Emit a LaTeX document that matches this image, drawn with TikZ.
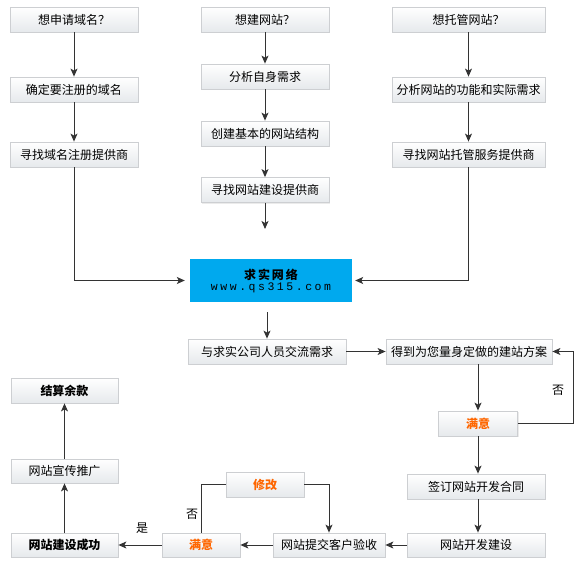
\documentclass[tikz,border=0pt]{standalone}
\usepackage{fontspec}
\setmainfont{Noto Sans CJK SC}
\newfontfamily\monofont{Liberation Mono}
\usetikzlibrary{arrows.meta,shadows}
\definecolor{boxline}{HTML}{CDCFD2}
\definecolor{boxbot}{HTML}{E6E9EC}
\definecolor{qsblue}{HTML}{00A9EE}
\definecolor{lineclr}{HTML}{333333}
\definecolor{orangetxt}{HTML}{FF6600}
\tikzset{
  flowbox/.style={draw=boxline, line width=0.8pt, top color=white, bottom color=boxbot,
    minimum height=25pt, inner sep=0pt, font=\fontsize{12pt}{14pt}\selectfont,
    drop shadow={shadow xshift=1pt, shadow yshift=-1pt, fill=black, opacity=0.08}},
  boldbox/.style={flowbox, font=\fontsize{12pt}{14pt}\selectfont\bfseries},
  okbox/.style={flowbox, font=\fontsize{12pt}{14pt}\selectfont\bfseries, text=orangetxt},
  bluebox/.style={fill=qsblue, draw=none, minimum width=162pt, minimum height=43pt, inner sep=0pt, align=center},
  conn/.style={draw=lineclr, line width=1pt},
  arr/.style={conn, -{Stealth[length=8pt,width=7pt,inset=2pt]}},
  lbl/.style={font=\fontsize{12pt}{14pt}\selectfont, inner sep=0pt}
}
\begin{document}
\begin{tikzpicture}[x=1pt,y=-1pt]
\useasboundingbox (0,0) rectangle (582,570);
% column 1
\node[flowbox, minimum width=128pt] (a1) at (74,19.5) {想申请域名？};
\node[flowbox, minimum width=128pt] (a2) at (74,89.5) {确定要注册的域名};
\node[flowbox, minimum width=128pt] (a3) at (74,154.5) {寻找域名注册提供商};
% column 2
\node[flowbox, minimum width=128pt] (b1) at (265,19.5) {想建网站？};
\node[flowbox, minimum width=128pt] (b2) at (265,76.5) {分析自身需求};
\node[flowbox, minimum width=128pt] (b3) at (265,133.5) {创建基本的网站结构};
\node[flowbox, minimum width=128pt] (b4) at (265,190) {寻找网站建设提供商};
\coordinate (b5) at (265,229);
% column 3
\node[flowbox, minimum width=153pt] (c1) at (468.5,19.5) {想托管网站？};
\node[flowbox, minimum width=153pt] (c2) at (468.5,89.5) {分析网站的功能和实际需求};
\node[flowbox, minimum width=153pt] (c3) at (468.5,154.5) {寻找网站托管服务提供商};
% center blue box
\node[bluebox] (q) at (271,280.5) {{\fontsize{12pt}{16pt}\selectfont\bfseries\addfontfeature{LetterSpace=16}求实网络}\\[-1pt]
  {\monofont\fontsize{11.5pt}{16pt}\selectfont\addfontfeature{LetterSpace=22}www.qs315.com}};
\coordinate (qs) at (267,312);
% middle row
\node[flowbox, minimum width=158pt] (d1) at (267,351.5) {与求实公司人员交流需求};
\node[flowbox, minimum width=166pt] (d2) at (469,351.5) {得到为您量身定做的建站方案};
\node[okbox, minimum width=79pt] (e1) at (478,423.5) {满意};
\node[flowbox, minimum width=138pt] (f1) at (476,486.5) {签订网站开发合同};
\node[flowbox, minimum width=138pt, minimum height=24pt] (f2) at (476,545) {网站开发建设};
\node[flowbox, minimum width=112pt, minimum height=24pt] (g1) at (329,545) {网站提交客户验收};
\node[okbox, minimum width=78pt] (m) at (265,484.5) {修改};
\node[okbox, minimum width=78pt, minimum height=24pt] (h1) at (201,545) {满意};
\node[boldbox, minimum width=107pt, minimum height=24pt] (k1) at (64.5,545) {网站建设成功};
\node[flowbox, minimum width=107pt, minimum height=24pt] (k2) at (64.5,471) {网站宣传推广};
\node[boldbox, minimum width=107pt] (k3) at (64.5,390.5) {结算余款};
% connectors
\draw[arr] (a1) -- (a2);
\draw[arr] (a2) -- (a3);
\draw[arr] (b1) -- (b2);
\draw[arr] (b2) -- (b3);
\draw[arr] (b3) -- (b4);
\draw[arr] (b4) -- (b5);
\draw[arr] (c1) -- (c2);
\draw[arr] (c2) -- (c3);
\draw[arr, shorten >=5pt] (a3.south) |- (q.west);
\draw[arr, shorten >=3pt] (c3.south) |- (q.east);
\draw[arr] (qs) -- (qs |- d1.north);
\draw[arr] (d1) -- (d2);
\draw[arr] (e1.north |- d2.south) -- (e1.north);
\draw[arr] (e1.east) -- (573,423.5) |- (d2.east);
\node[lbl] (no1) at (558,390) {否};
\draw[arr] (e1.south) -- (e1.south |- f1.north);
\draw[arr] (e1.south |- f1.south) -- (e1.south |- f2.north);
\draw[arr] (f2) -- (g1);
\draw[arr] (g1) -- (h1);
\draw[arr] (h1) -- (k1);
\draw[conn] (h1.north) |- (m.west);
\draw[arr] (m.east) -| (g1.north);
\node[lbl] (no2) at (192,514) {否};
\node[lbl] (yes) at (142,528) {是};
\draw[arr] (k1) -- (k2);
\draw[arr] (k2) -- (k3);
\end{tikzpicture}
\end{document}
